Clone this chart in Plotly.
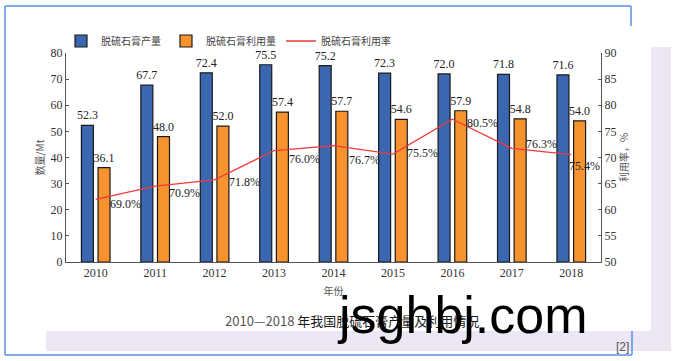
import plotly.graph_objects as go

years = [2010, 2011, 2012, 2013, 2014, 2015, 2016, 2017, 2018]
production = [52.3, 67.7, 72.4, 75.5, 75.2, 72.3, 72.0, 71.8, 71.6]
utilization = [36.1, 48.0, 52.0, 57.4, 57.7, 54.6, 57.9, 54.8, 54.0]
rate = [69.0, 70.9, 71.8, 76.0, 76.7, 75.5, 80.5, 76.3, 75.4]

# pixel offsets of rate labels (layout only)
label_dx = [30, 29, 30, 30, 31, 30, 30, 30, 13]
label_dy = [-5, -7, -2, -8, -14, 1, -4, 4, -11]

W, H = 674, 361
L, R, T, B = 66, 601, 53, 262


def px(x):
    return (x - L) / (R - L)


def py(y):
    return (B - y) / (B - T)


BLUE = "#3b66b0"
ORANGE = "#f7932f"
RED = "#f23a3a"
SERIF = "Liberation Serif"
CJK = "Noto Sans CJK SC"

fig = go.Figure()
fig.add_trace(go.Bar(
    x=years, y=production, name="脱硫石膏产量",
    marker=dict(color=BLUE, line=dict(color="#1a1a1a", width=1.2)),
    text=[f"{v:.1f}" for v in production], textposition="outside",
    textfont=dict(family=SERIF, size=12, color="#222"),
    constraintext="none", textangle=0, cliponaxis=False,
))
fig.add_trace(go.Bar(
    x=years, y=utilization, name="脱硫石膏利用量",
    marker=dict(color=ORANGE, line=dict(color="#1a1a1a", width=1.2)),
    text=[f"{v:.1f}" for v in utilization], textposition="outside",
    textfont=dict(family=SERIF, size=12, color="#222"),
    constraintext="none", textangle=0, cliponaxis=False,
))
# invisible companion on the right axis so that the axis is drawn
fig.add_trace(go.Scatter(
    x=years, y=rate, yaxis="y2", mode="markers", marker=dict(opacity=0),
    showlegend=False, hoverinfo="skip",
))
fig.add_trace(go.Scatter(
    x=years, y=rate, name="脱硫石膏利用率", yaxis="y3", mode="lines",
    line=dict(color=RED, width=1.3),
))

annotations = []
for yr, v, dx, dy in zip(years, rate, label_dx, label_dy):
    annotations.append(dict(
        x=yr, y=v, xref="x", yref="y3", text=f"{v:.1f}%", showarrow=False,
        xanchor="center", yanchor="middle",
        xshift=dx, yshift=dy, font=dict(family=SERIF, size=12, color="#222"),
    ))

# caption
annotations.append(dict(
    x=px(352), y=py(320), xref="paper", yref="paper", showarrow=False,
    xanchor="center", yanchor="middle",
    text="<span style='color:#555'>2010—2018</span> 年我国脱硫石膏产量及利用情况",
    font=dict(family=CJK, size=13, color="#1a1a1a"),
))
# source tag
annotations.append(dict(
    x=px(622), y=py(347), xref="paper", yref="paper", showarrow=False,
    xanchor="center", yanchor="middle",
    text="[2]", font=dict(family="Liberation Sans", size=12, color="#555"),
))
# watermark
annotations.append(dict(
    x=px(462), y=py(315), xref="paper", yref="paper", showarrow=False,
    xanchor="center", yanchor="middle",
    text="jsghbj.com", font=dict(family="Liberation Sans", size=52, color="#000"),
))

FRAME = "#5a8fe0"
LAV = "#ede6f4"
shapes = [
    dict(type="rect", xref="paper", yref="paper", x0=px(46), x1=px(671), y0=py(331), y1=py(351),
         fillcolor=LAV, line=dict(width=0), layer="below"),
    dict(type="rect", xref="paper", yref="paper", x0=px(651), x1=px(671), y0=py(47), y1=py(351),
         fillcolor=LAV, line=dict(width=0), layer="below"),
    dict(type="line", xref="paper", yref="paper", x0=px(5), x1=px(631), y0=py(6), y1=py(6),
         line=dict(color=FRAME, width=1.5)),
    dict(type="line", xref="paper", yref="paper", x0=px(631), x1=px(631), y0=py(6), y1=py(26),
         line=dict(color=FRAME, width=1.5)),
    dict(type="line", xref="paper", yref="paper", x0=px(5), x1=px(5), y0=py(6), y1=py(355),
         line=dict(color=FRAME, width=1.5)),
    dict(type="line", xref="paper", yref="paper", x0=px(5), x1=px(632), y0=py(355), y1=py(355),
         line=dict(color=FRAME, width=1.5)),
    dict(type="line", xref="paper", yref="paper", x0=px(632), x1=px(632), y0=py(331), y1=py(355),
         line=dict(color=FRAME, width=1.5)),
]

axis_common = dict(showline=True, linecolor="#555", linewidth=1, showgrid=False,
                   zeroline=False, tickfont=dict(family=SERIF, size=12, color="#333"))

fig.update_layout(
    width=W, height=H,
    margin=dict(l=L, r=W - R, t=T, b=H - B, pad=0, autoexpand=False),
    paper_bgcolor="white", plot_bgcolor="white",
    barmode="group", bargap=0.44, bargroupgap=0.28,
    font=dict(family=SERIF, color="#333"),
    showlegend=True,
    legend=dict(orientation="h", x=px(61), y=py(41), xanchor="left", yanchor="middle",
                font=dict(family=CJK, size=10, color="#444"),
                bgcolor="rgba(0,0,0,0)"),
    xaxis=dict(**axis_common, type="linear", range=[2009.5, 2018.5], tickvals=years,
               ticktext=[str(y) for y in years], ticks="",
               title=dict(text="年份", font=dict(family=CJK, size=10, color="#555"), standoff=8)),
    yaxis=dict(**axis_common, range=[0, 80], dtick=10, ticks="inside", ticklen=3, tickcolor="#555",
               title=dict(text="数量/Mt", font=dict(family=CJK, size=10, color="#555"), standoff=4)),
    yaxis2=dict(**axis_common, range=[50, 90], dtick=5, ticks="inside", ticklen=3, tickcolor="#555",
                overlaying="y", side="right", anchor="x",
                title=dict(text="利用率，%", font=dict(family=CJK, size=10, color="#555"), standoff=4)),
    yaxis3=dict(range=[60, 90], overlaying="y", visible=False),
    annotations=annotations,
    shapes=shapes,
)

fig.write_html("out.html", config={"displayModeBar": False},
               post_script="document.body.style.margin='0';")
